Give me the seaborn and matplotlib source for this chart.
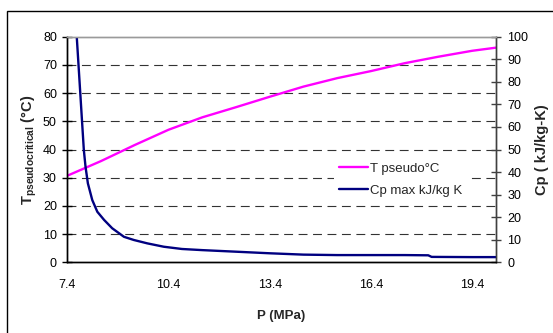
import matplotlib
matplotlib.use("Agg")
import matplotlib.pyplot as plt
import seaborn as sns
import pandas as pd
from matplotlib.patches import Rectangle

# ---- data ----
pressure_t = [7.4, 8.4, 9.4, 10.4, 11.4, 12.4, 13.4, 14.4, 15.4, 16.4, 17.4, 18.4, 19.4, 20.1]
t_pseudo = [30.7, 35.9, 41.6, 47.0, 51.4, 55.0, 58.7, 62.3, 65.3, 67.8, 70.6, 72.9, 75.0, 76.1]

pressure_cp = [7.6, 7.68, 7.89, 7.94, 8.01, 8.14, 8.29, 8.49, 8.73, 9.08, 9.37, 9.77,
               10.26, 10.80, 11.4, 12.4, 13.4, 14.4, 15.4, 16.4, 17.4, 18.1, 18.2, 19.4, 20.1]
cp_max = [150, 100, 49.8, 42.4, 35.0, 27.6, 22.4, 18.8, 15.1, 11.3, 9.9, 8.4,
          6.9, 5.9, 5.4, 4.7, 4.0, 3.4, 3.2, 3.2, 3.2, 3.1, 2.4, 2.3, 2.3]

x_ticks = [7.4, 10.4, 13.4, 16.4, 19.4]
left_ticks = [0, 10, 20, 30, 40, 50, 60, 70, 80]
right_ticks = [0, 10, 20, 30, 40, 50, 60, 70, 80, 90, 100]

label_t = "T pseudo°C"
label_cp = "Cp max kJ/kg K"

df_t = pd.DataFrame({"P": pressure_t, "T": t_pseudo})
df_cp = pd.DataFrame({"P": pressure_cp, "Cp": cp_max})

sns.set_theme(style="white")
plt.rcParams["font.family"] = ["Liberation Sans", "DejaVu Sans"]
plt.rcParams["mathtext.fontset"] = "custom"
plt.rcParams["mathtext.bf"] = "Liberation Sans:bold"
plt.rcParams["mathtext.rm"] = "Liberation Sans"

W, H = 553, 333
fig = plt.figure(figsize=(W / 100, H / 100), dpi=100)
fig.patch.set_facecolor("white")

L, R, B, T = 67.3, 495.7, 262.3, 36.7
ax = fig.add_axes([L / W, 1 - B / H, (R - L) / W, (B - T) / H])
ax2 = ax.twinx()
ax2.patch.set_visible(False)

sns.lineplot(data=df_t, x="P", y="T", ax=ax, color="#FF00FF", lw=1.7, label=label_t,
             legend=False, sort=False)
sns.lineplot(data=df_cp, x="P", y="Cp", ax=ax2, color="#000080", lw=1.7, label=label_cp,
             legend=False, sort=False)

ax.set_xlim(7.4, 20.1)
ax.set_ylim(0, 80)
ax2.set_ylim(0, 100)

all_x = [round(7.4 + i, 1) for i in range(13)]
ax.set_xticks(all_x)
ax.set_xticklabels([f"{v:.1f}" if v in x_ticks else "" for v in all_x])
ax.set_yticks(left_ticks)
ax.set_yticklabels([str(v) for v in left_ticks])
ax2.set_yticks(right_ticks)
ax2.set_yticklabels([str(v) for v in right_ticks])

for a in (ax, ax2):
    a.tick_params(direction="inout", length=7, width=1, labelsize=9, colors="black")
ax.tick_params(axis="x", pad=8.5)
ax.tick_params(axis="y", pad=4, left=True)
ax2.tick_params(axis="y", pad=5, right=True, color="#404040")

# grid
ax.grid(False)
ax2.grid(False)
for v in left_ticks[1:-1]:
    ax.axhline(v, color="#333333", lw=0.8, ls=(0, (8, 5)), zorder=0.5)

for a in (ax, ax2):
    a.spines["left"].set_color("black")
    a.spines["bottom"].set_color("black")
    a.spines["right"].set_color("#404040")
    a.spines["top"].set_color("#9a9a9a")
    for s in a.spines.values():
        s.set_linewidth(1)

ax.set_xlabel("P (MPa)", fontsize=9.5, fontweight="bold", labelpad=14)
ax.set_ylabel(r"$\mathbf{T_{pseudocritical}}$" + " (°C)", fontsize=10.5, fontweight="bold",
              labelpad=3)
ax2.set_ylabel("Cp ( kJ/kg-K)", fontsize=10.5, fontweight="bold", labelpad=5, rotation=90)

h1, l1 = ax.get_legend_handles_labels()
h2, l2 = ax2.get_legend_handles_labels()
leg = ax2.legend(h1 + h2, l1 + l2, loc="center left",
                 bbox_to_anchor=(334 / W, 1 - 179.7 / H), bbox_transform=fig.transFigure,
                 frameon=True, fancybox=False, framealpha=1, edgecolor="none",
                 fontsize=9.5, handlelength=2.2, handletextpad=0.15, labelspacing=0.75,
                 borderpad=0.4, borderaxespad=0)
leg.get_frame().set_facecolor("white")

fig.patches.append(Rectangle((7 / W, -0.05), 1.0, 1 - 10.5 / H + 0.05,
                             transform=fig.transFigure, fill=False,
                             edgecolor="black", lw=1))

fig.savefig("out.png", dpi=100)
